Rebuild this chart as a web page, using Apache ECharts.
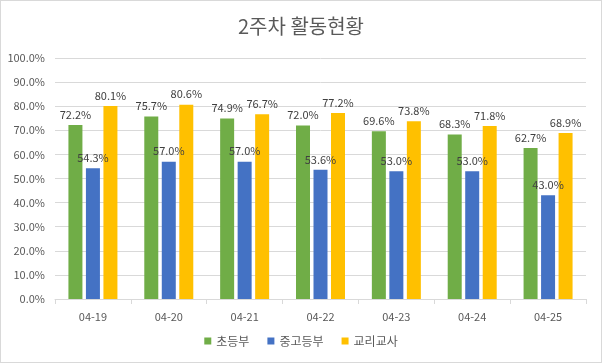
<!DOCTYPE html>
<html><head><meta charset="utf-8">
<script src="https://cdn.jsdelivr.net/npm/echarts@6/dist/echarts.min.js"></script>
<style>html,body{margin:0;padding:0;background:#fff}#c{width:602px;height:363px;box-sizing:border-box;border:1px solid #d9d9d9}</style>
</head><body><div id="c"></div>
<script>
const categories = ['04-19','04-20','04-21','04-22','04-23','04-24','04-25'];
const elementary = [72.2,75.7,74.9,72.0,69.6,68.3,62.7];
const secondary = [54.3,57.0,57.0,53.6,53.0,53.0,43.0];
const teachers = [80.1,80.6,76.7,77.2,73.8,71.8,68.9];
const seriesNames = ['초등부','중고등부','교리교사'];
const colors = ['#70AD47','#4472C4','#FFC000'];
const font = '"Noto Sans CJK KR", "Noto Sans", sans-serif';
const chart = echarts.init(document.getElementById('c'));
const lbl = {show:true, position:'top', formatter: p => p.value.toFixed(1)+'%', color:'#404040', fontSize:11, fontFamily:font, distance:5};
const mk = (name, data, i) => ({name, type:'bar', data, barWidth:14, barGap:'25%', itemStyle:{color:colors[i]}, label:lbl});
chart.setOption({
  animation:false,
  textStyle:{fontFamily:font},
  title:{text:'2주차 활동현황', left:'center', top:10, textStyle:{fontSize:20, fontWeight:'normal', color:'#595959', fontFamily:font}},
  legend:{bottom:10, itemWidth:7, itemHeight:7, itemGap:18, icon:'rect', textStyle:{fontSize:12, color:'#595959', fontFamily:font}, data:seriesNames},
  grid:{left:54, right:15, top:57, bottom:63},
  xAxis:{type:'category', data:categories, axisLine:{lineStyle:{color:'#d9d9d9'}}, axisTick:{show:true, length:5, lineStyle:{color:'#d9d9d9'}}, axisLabel:{color:'#595959', fontSize:11, margin:12}},
  yAxis:{type:'value', min:0, max:100, interval:10, axisLabel:{formatter: v => v.toFixed(1)+'%', color:'#595959', fontSize:11, margin:10}, splitLine:{lineStyle:{color:'#d9d9d9'}}, axisLine:{show:false}, axisTick:{show:false}},
  series:[mk(seriesNames[0], elementary, 0), mk(seriesNames[1], secondary, 1), mk(seriesNames[2], teachers, 2)]
});
</script></body></html>
